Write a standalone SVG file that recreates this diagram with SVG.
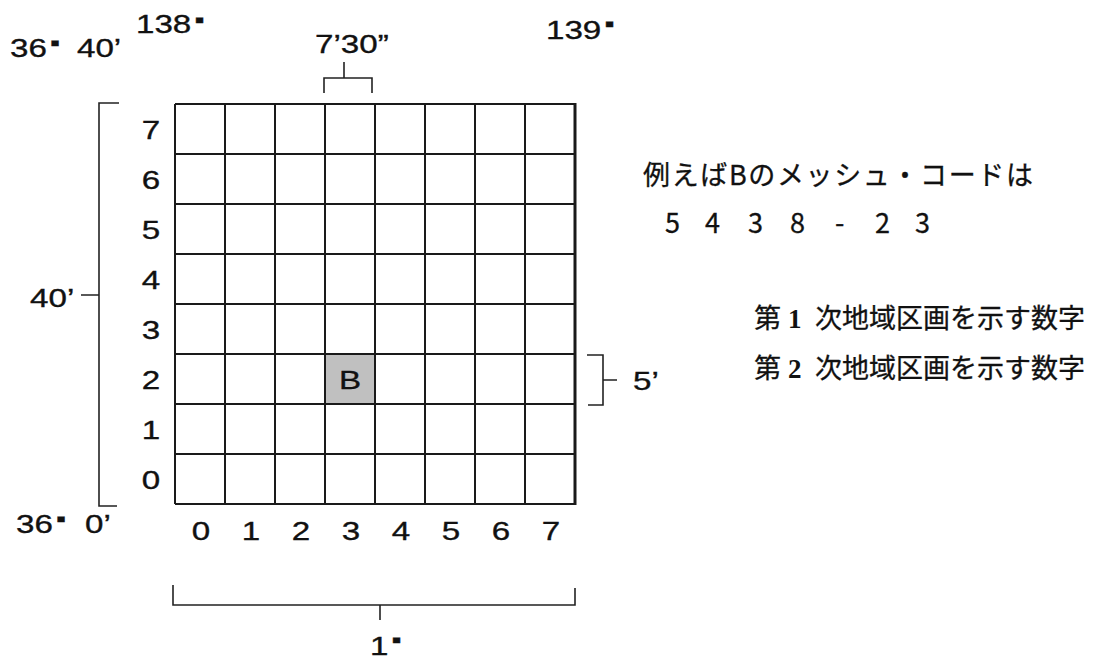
<svg xmlns="http://www.w3.org/2000/svg" width="1098" height="659" viewBox="0 0 1098 659">
<style>
.ln{stroke:#1a1a1a;stroke-width:2;fill:none}
.br{stroke:#222;stroke-width:1.6;fill:none}
.lat{font-family:"Liberation Sans",Arial,sans-serif;font-size:25.5px;fill:#111;stroke:#111;stroke-width:0.35}
.mid{text-anchor:middle}
.deg{font-family:"DejaVu Sans",sans-serif;font-size:7px}
.jp{font-family:"Noto Sans CJK JP","Noto Sans",sans-serif;font-size:27px;fill:#111;stroke:#111;stroke-width:0.3}
.ser{font-family:"Liberation Serif","Times New Roman",serif;font-weight:bold;font-size:27px;fill:#111}
</style>
<rect width="1098" height="659" fill="#fff"/>
<g id="cellB"><rect x="325" y="354" width="50" height="50" fill="#c0c0c0"/></g>
<g id="grid">
<path class="ln" d="M175 104H575M175 154H575M175 204H575M175 254H575M175 304H575M175 354H575M175 404H575M175 454H575M175 504H575M175 104V504M225 104V504M275 104V504M325 104V504M375 104V504M425 104V504M475 104V504M525 104V504"/>
<path d="M575 103V505" stroke="#1a1a1a" stroke-width="3"/>
</g>
<g id="connectors">
<path class="br" d="M119 103H99V506H117M81 295H99"/>
<path class="br" d="M344 62V78M324 93V78H372V93"/>
<path class="br" d="M587 355H603V405H588M603 380H617"/>
<path class="br" d="M173 585V605H575V588M380 605V620"/>
</g>
<g id="labels" transform="scale(1.3,1)">
<text class="lat" x="104.6" y="33">138<tspan class="deg" dx="3" dy="-11">■</tspan></text>
<text class="lat" x="420" y="39">139<tspan class="deg" dx="3" dy="-13">■</tspan></text>
<text class="lat" x="242.3" y="53">7’30”</text>
<text class="lat" x="7.7" y="57">36<tspan class="deg" dx="3" dy="-12">■ </tspan><tspan x="59.2" dy="12">40’</tspan></text>
<text class="lat" x="23.1" y="307">40’</text>
<text class="lat" x="12.3" y="533">36<tspan class="deg" dx="3" dy="-12">■ </tspan><tspan x="65.4" dy="12">0’</tspan></text>
<text class="lat" x="486.9" y="390">5’</text>
<text class="lat" x="284.6" y="655">1<tspan class="deg" dx="3" dy="-13">■</tspan></text>
<g id="rowlabels" class="lat mid">
<text x="116.2" y="139">7</text>
<text x="116.2" y="189">6</text>
<text x="116.2" y="239">5</text>
<text x="116.2" y="289">4</text>
<text x="116.2" y="339">3</text>
<text x="116.2" y="389">2</text>
<text x="116.2" y="439">1</text>
<text x="116.2" y="489">0</text>
</g>
<g id="collabels" class="lat mid">
<text x="154.6" y="540">0</text>
<text x="193.1" y="540">1</text>
<text x="231.5" y="540">2</text>
<text x="270" y="540">3</text>
<text x="308.5" y="540">4</text>
<text x="346.9" y="540">5</text>
<text x="385.4" y="540">6</text>
<text x="423.8" y="540">7</text>
</g>
<text class="lat mid" x="269.2" y="389">B</text>
</g>
<g id="note">
<text class="jp" x="643" y="185" textLength="390" lengthAdjust="spacing">例えばBのメッシュ・コードは</text>
<text class="jp" y="233"><tspan x="665">5 </tspan><tspan x="705">4 </tspan><tspan x="748">3 </tspan><tspan x="790">8 </tspan><tspan x="835">- </tspan><tspan x="875">2 </tspan><tspan x="915">3</tspan></text>
<text class="jp" x="754" y="328">第</text>
<text class="ser" x="788" y="328">1</text>
<text class="jp" x="815" y="328">次地域区画を示す数字</text>
<text class="jp" x="754" y="378">第</text>
<text class="ser" x="788" y="378">2</text>
<text class="jp" x="815" y="378">次地域区画を示す数字</text>
</g>
</svg>
